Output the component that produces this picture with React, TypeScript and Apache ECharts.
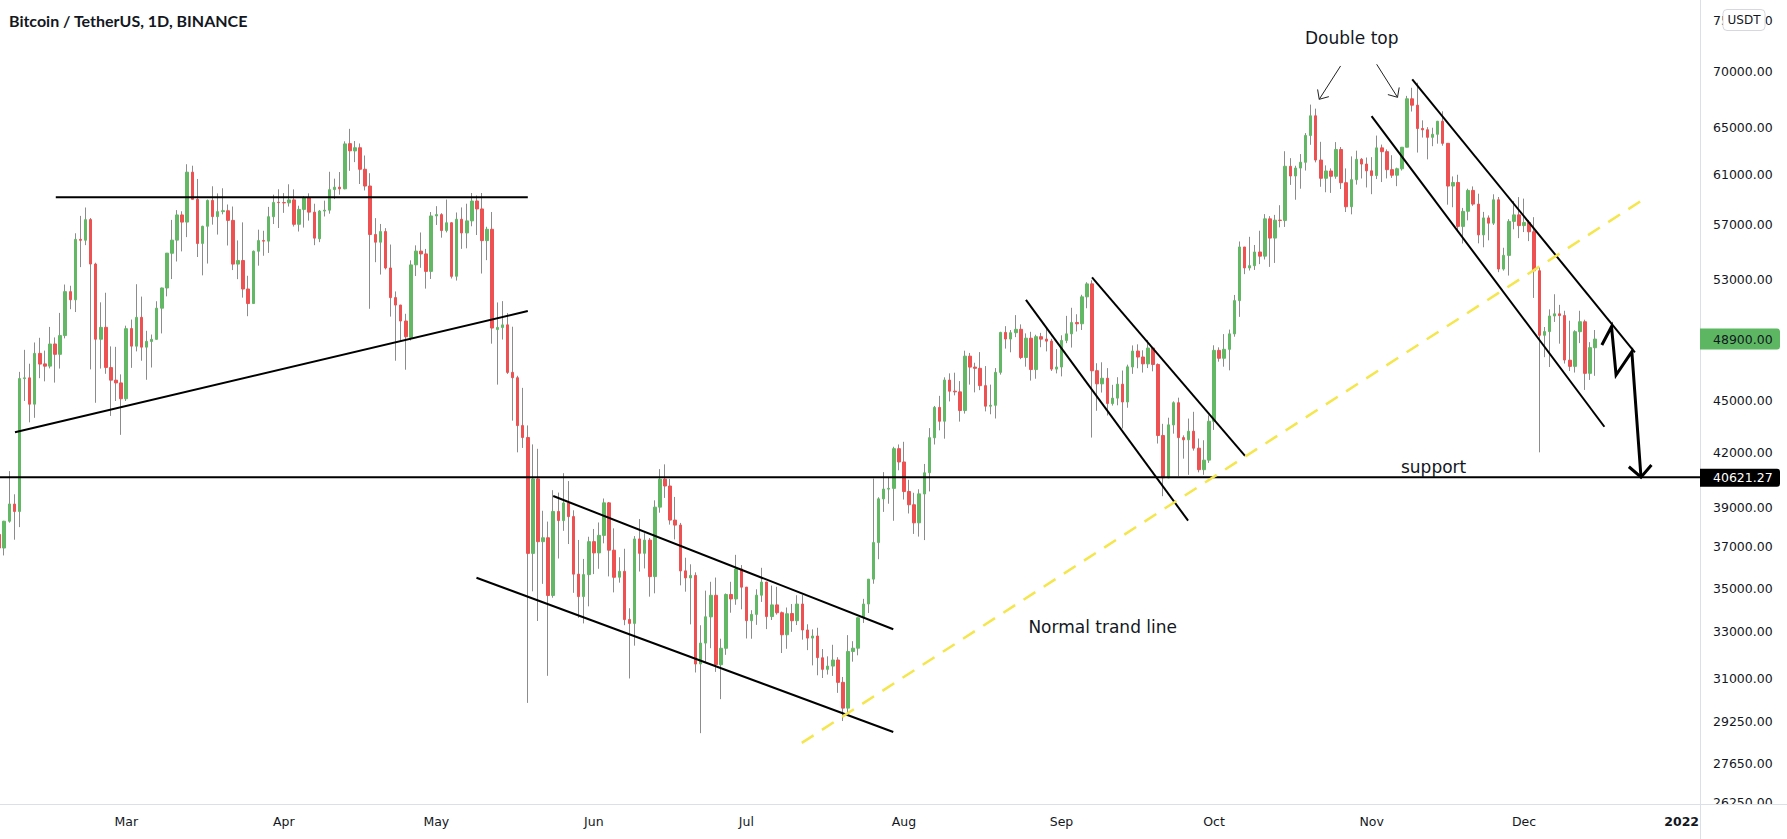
import React, { useEffect, useRef } from "react";
import * as echarts from "echarts";

// Daily BTCUSDT candles 2021, each [open, high, low, close].
// First entry = 4 Feb 2021. Day 0 of the x axis = 8 Feb 2021.
const FIRST_DAY = -4;

const febCandles = [
  [37618, 38708, 36161, 36936], [36936, 38310, 36570, 38290], [38289, 40955, 38215, 39186], [39181, 39700, 37351, 38795],
  [38795, 46794, 37988, 46374], [46374, 48200, 45000, 46420], [46420, 47310, 43727, 44807], [44807, 48678, 43994, 47969],
  [47969, 48985, 46400, 47287], [47298, 48150, 46202, 47153], [47156, 49707, 47014, 48577], [48580, 49010, 46125, 47911],
  [47911, 50650, 47003, 49133], [49133, 52618, 48948, 52119], [52117, 52530, 50901, 51552], [51550, 56368, 50710, 55906],
  [55906, 57700, 53863, 55841], [55841, 58352, 55477, 57408], [57412, 57534, 46951, 54087], [54087, 54183, 44892, 48891],
  [48891, 51374, 47003, 49676], [49677, 52041, 46674, 47073], [47063, 48424, 44106, 46276], [46276, 48394, 45000, 46106],
  [46104, 46638, 43000, 45135],
];
const marCandles = [
  [45134, 49790, 45000, 49587], [49596, 50200, 47047, 48440], [48436, 52640, 48100, 50349], [50349, 51773, 47500, 48374],
  [48374, 49448, 46300, 48751], [48746, 49200, 47070, 48882], [48883, 51450, 48882, 50971], [50972, 52402, 49274, 52375],
  [52375, 54895, 51789, 54884], [54875, 57387, 53005, 55851], [55851, 58150, 54272, 57773], [57773, 58058, 55013, 57221],
  [57222, 61844, 56078, 61189], [61188, 61720, 59021, 59000], [59000, 60633, 54600, 55600], [55605, 56939, 53272, 56900],
  [56901, 58982, 54123, 58912], [58912, 60040, 57023, 57648], [57641, 59468, 56270, 58030], [58030, 59880, 57820, 58102],
  [58100, 58589, 55450, 57352], [57352, 58430, 53650, 54083], [54083, 55830, 53000, 54340], [54342, 57200, 51700, 52303],
  [52303, 53240, 50427, 51293], [51293, 55073, 51280, 55025], [55025, 56640, 53967, 55817], [55817, 56559, 54691, 55777],
  [55777, 58400, 54900, 57636], [57635, 59368, 57071, 58746], [58760, 59800, 56769, 58740],
];
const aprCandles = [
  [58740, 59490, 57935, 58720], [58720, 60200, 58428, 58950], [58950, 59791, 56880, 57051], [57051, 58492, 56500, 58202],
  [58203, 59249, 56800, 59129], [59130, 59474, 57333, 57991], [57990, 58650, 55473, 56000], [55953, 58153, 55700, 58077],
  [58077, 58894, 57654, 58142], [58143, 61220, 57871, 59769], [59778, 60659, 59017, 59964], [59964, 61199, 59369, 59835],
  [59836, 63777, 59799, 63554], [63576, 64854, 61301, 62970], [62960, 63800, 62020, 63229], [63229, 63594, 60222, 61427],
  [61427, 62572, 59700, 60059], [60059, 61103, 50931, 56274], [56275, 57526, 54221, 55696], [55696, 57076, 53329, 56499],
  [56499, 56757, 53696, 53801], [53801, 55521, 50400, 51702], [51703, 52131, 47500, 51188], [51188, 51200, 48734, 50101],
  [50101, 50591, 46930, 49058], [49004, 54357, 48807, 54021], [54030, 55460, 53222, 55034], [55034, 56428, 53813, 54825],
  [54825, 55195, 52330, 53555], [53555, 58000, 53013, 57694],
];
const mayCandles = [
  [57697, 58458, 57000, 57800], [57797, 57911, 56035, 56578], [56578, 58981, 56435, 57169], [57169, 57200, 53046, 53200],
  [53205, 57963, 52900, 57436], [57436, 58360, 55200, 56393], [56394, 58650, 55241, 57314], [57315, 59500, 56900, 58862],
  [58866, 59300, 56235, 58240], [58240, 59500, 53400, 55816], [55816, 56862, 54370, 56670], [56670, 58000, 48600, 49631],
  [49537, 51367, 46000, 49670], [49671, 51459, 48870, 49841], [49845, 50639, 46664, 46762], [46762, 49720, 43825, 46431],
  [46427, 46549, 42001, 43538], [43538, 45800, 42250, 42849], [42844, 43546, 30000, 36671], [36671, 42451, 34850, 40527],
  [40527, 42200, 33488, 37252], [37253, 38832, 35200, 37449], [37449, 38271, 31111, 34655], [34656, 39920, 34551, 38796],
  [38796, 39791, 36419, 38325], [38325, 40841, 37800, 39241], [39241, 40411, 37134, 38529], [38530, 38856, 34779, 35663],
  [35662, 37338, 33632, 34605], [34606, 36400, 33379, 35641], [35641, 37499, 34153, 37253],
];
const junCandles = [
  [37254, 37894, 35666, 36694], [36694, 38225, 35920, 37569], [37568, 39476, 37170, 39246], [39246, 39289, 35555, 36829],
  [36829, 37925, 34800, 35513], [35517, 36480, 35258, 35796], [35796, 36900, 33300, 33552], [33556, 34068, 31000, 33380],
  [33380, 37534, 32397, 37388], [37389, 38400, 35787, 36675], [36677, 37680, 35937, 37331], [37331, 37437, 34600, 35546],
  [35546, 39380, 34757, 39020], [39021, 41064, 38731, 40516], [40516, 41330, 39506, 40144], [40143, 40527, 38116, 38349],
  [38349, 39560, 37365, 38092], [38093, 38202, 35130, 35819], [35820, 36457, 34833, 35484], [35483, 36137, 33336, 35600],
  [35601, 35750, 31251, 31608], [31614, 33298, 28805, 32509], [32510, 34881, 31683, 33678], [33675, 35298, 32287, 34664],
  [34663, 35500, 31275, 31584], [31577, 32700, 30151, 32283], [32283, 34749, 32000, 34701], [34702, 35298, 33862, 34494],
  [34494, 36600, 34225, 35911], [35912, 36100, 34017, 35045],
];
const julCandles = [
  [35045, 35057, 32711, 33504], [33502, 33977, 32700, 33786], [33786, 34945, 33316, 34669], [34668, 35967, 34357, 35286],
  [35288, 35293, 33125, 33690], [33690, 35118, 33532, 34220], [34220, 35059, 33777, 33862], [33863, 33917, 32078, 32875],
  [32875, 34100, 32261, 33815], [33825, 34262, 33004, 33502], [33502, 34666, 33306, 34258], [34259, 34679, 32658, 33086],
  [33086, 33340, 32203, 32729], [32729, 33114, 31550, 32820], [32820, 33185, 31133, 31880], [31874, 32249, 31020, 31383],
  [31383, 31935, 31164, 31520], [31521, 32435, 31108, 31778], [31779, 31899, 30407, 30839], [30839, 31063, 29278, 29790],
  [29790, 32858, 29482, 32144], [32144, 32591, 31708, 32287], [32287, 33651, 31980, 33634], [33634, 34500, 33402, 34259],
  [34262, 35398, 33851, 35425], [35425, 40550, 35206, 37208], [37208, 39542, 36383, 39457], [39456, 40900, 38772, 39978],
  [39978, 40640, 39200, 40017], [40016, 42317, 38313, 42207], [42207, 42448, 41000, 41462],
];
const augCandles = [
  [41461, 42599, 39422, 39846], [39850, 40480, 38690, 39147], [39147, 39780, 37642, 38207], [38208, 39969, 37508, 39723],
  [39718, 41350, 37332, 40862], [40866, 43392, 39853, 42836], [42832, 44700, 42446, 44614], [44614, 45310, 43261, 43792],
  [43794, 46454, 42779, 46285], [46280, 46700, 44972, 45595], [45596, 46743, 45341, 45554], [45554, 46218, 43770, 44428],
  [44429, 48144, 44244, 47793], [47793, 48000, 46000, 47096], [47096, 47372, 45525, 47019], [47019, 48053, 45660, 45936],
  [45936, 47160, 44376, 44686], [44686, 46000, 44203, 44741], [44741, 47033, 43955, 46763], [46763, 49382, 46622, 49339],
  [49340, 49757, 48280, 48905], [48905, 49500, 48040, 49321], [49321, 50500, 49029, 49546], [49547, 49876, 47600, 47706],
  [47706, 49277, 47123, 48960], [48960, 49380, 46250, 46942], [46942, 49188, 46365, 49058], [49058, 49310, 48370, 48897],
  [48897, 49666, 48100, 48767], [48767, 48916, 46853, 46970], [46970, 48250, 46700, 47100],
];
const sepCandles = [
  [47100, 49150, 46512, 48810], [48810, 50450, 48633, 49246], [49247, 51000, 48348, 49999], [50000, 50559, 49400, 49915],
  [49918, 51900, 49500, 51756], [51757, 52780, 50969, 52663], [52666, 52920, 42843, 46864], [46868, 47340, 44412, 46048],
  [46048, 47400, 45513, 46395], [46396, 47031, 44132, 44850], [44842, 45987, 44722, 45173], [45173, 46460, 44742, 46025],
  [46025, 46880, 43370, 44940], [44940, 47250, 44594, 47111], [47104, 48487, 46670, 48121], [48121, 48557, 47021, 47737],
  [47737, 48170, 46750, 47300], [47299, 48843, 47035, 48314], [48314, 48372, 46829, 47260], [47261, 47328, 42500, 42962],
  [42961, 43639, 39600, 40588], [40583, 44000, 40565, 43580], [43576, 44978, 43069, 44895], [44895, 45200, 40675, 42840],
  [42839, 42970, 41646, 42716], [42717, 43950, 40750, 43208], [43209, 44350, 42098, 42235], [42235, 42787, 40888, 41034],
  [41034, 42690, 40753, 41564], [41564, 44141, 41410, 43790],
];
const octCandles = [
  [43791, 48495, 43284, 48165], [48166, 48361, 47438, 47657], [47658, 49229, 47120, 48233], [48233, 49529, 46891, 49245],
  [49244, 51886, 49057, 51493], [51493, 55750, 50382, 55340], [55339, 55338, 53357, 53805], [53802, 56100, 53617, 53967],
  [53967, 55489, 53661, 54968], [54968, 56561, 54080, 54660], [54660, 57839, 54415, 57471], [57471, 57680, 53879, 56005],
  [56006, 57777, 54167, 57367], [57370, 58532, 56819, 57347], [57347, 62934, 56850, 61672], [61672, 62351, 60150, 60875],
  [60876, 61718, 58963, 61528], [61528, 62695, 59844, 62009], [62005, 64486, 61322, 64280], [64281, 67000, 63481, 66001],
  [66002, 66639, 62000, 62193], [62193, 63732, 60000, 60688], [60689, 61747, 59562, 61286], [61286, 61500, 59510, 60852],
  [60852, 63710, 60650, 63078], [63078, 63293, 59817, 60328], [60328, 61497, 58000, 58413], [58413, 62499, 57820, 60575],
  [60575, 62980, 60174, 62253], [62253, 62359, 60673, 61859], [61860, 62405, 59945, 61299],
];
const novCandles = [
  [61300, 62437, 59405, 60911], [60911, 64270, 60624, 63219], [63220, 63500, 60382, 62896], [62897, 63086, 60677, 61395],
  [61396, 62600, 60721, 60937], [60940, 61560, 60050, 61470], [61470, 63286, 61322, 63273], [63273, 67789, 63273, 67525],
  [67525, 68531, 66382, 66947], [66947, 69000, 62822, 64882], [64883, 65600, 64100, 64774], [64774, 65000, 62250, 64122],
  [64123, 64950, 63360, 64380], [64381, 65550, 63576, 65519], [65520, 66401, 63400, 63606], [63606, 63617, 58574, 60058],
  [60059, 60840, 58373, 60345], [60345, 60977, 56474, 56891], [56891, 58320, 55600, 58052], [58058, 59846, 57353, 59707],
  [59707, 60029, 58486, 58622], [58617, 59444, 55610, 56247], [56247, 58009, 55318, 57541], [57541, 57735, 55837, 57138],
  [57138, 59398, 57000, 58960], [58960, 59183, 53500, 53726], [53723, 55281, 53610, 54721], [54717, 57445, 53256, 57274],
  [57275, 58865, 56666, 57776], [57777, 59176, 56000, 56951],
];
const decCandles = [
  [56951, 59053, 56459, 57185], [57184, 57375, 55777, 56481], [56484, 57600, 51680, 53602], [53601, 53860, 42000, 49152],
  [49152, 49699, 47727, 49397], [49397, 50891, 47100, 50441], [50441, 51936, 50039, 50589], [50588, 51200, 48600, 50472],
  [50471, 50797, 47320, 47546], [47535, 50125, 46852, 47141], [47141, 49485, 46751, 49389], [49389, 50797, 48638, 50054],
  [50053, 50190, 45672, 46702], [46702, 48700, 46290, 48343], [48336, 49500, 46547, 48900],
];

// Axis ticks
const monthTickDays = [21, 52, 82, 113, 143, 174, 205, 235, 266, 296, 327];
const monthTickLabels = ["Mar", "Apr", "May", "Jun", "Jul", "Aug", "Sep", "Oct", "Nov", "Dec", "2022"];
const priceTickValues = [75000, 70000, 65000, 61000, 57000, 53000, 45000, 42000, 39000, 37000, 35000, 33000, 31000, 29250, 27650, 26250];
const lastPrice = 48900;
const supportPrice = 40621.27;

// Visible range (days, prices)
const X_MIN = -3.836;
const X_MAX = 330.61;
const AXIS_MIN_PRICE = 26191;
const AXIS_MAX_PRICE = 77106;

// Drawn annotations, [day, price]
const resistanceLine = [[7.14, 59170], [100.0, 59170]];
const risingLine = [[-0.89, 43150], [100.0, 50780]];
const mayChannelUpper = [[105.0, 39610], [171.9, 33120]];
const mayChannelLower = [[89.9, 35490], [171.9, 28850]];
const normalTrendLine = [[153.9, 28430], [320.2, 59180]];
const sepChannelUpper = [[211.0, 53130], [241.1, 41800]];
const sepChannelLower = [[198.0, 51540], [229.9, 38320]];
const novChannelUpper = [[274.0, 69320], [317.8, 48040]];
const novChannelLower = [[266.0, 65980], [311.8, 43470]];
const projectionPath = [[311.3, 48510], [313.2, 49720], [314.1, 46600], [317.2, 48080], [319.0, 40621.27]];
const doubleTopArrows = [
  [[259.9, 70570], [255.7, 67480]],
  [[267.0, 70730], [271.1, 67660]],
];
const notes = [
  { text: "Double top", day: 262.1, price: 73270 },
  { text: "Normal trand line", day: 213.1, price: 33220 },
  { text: "support", day: 278.2, price: 41180 },
];

const UP = "#63b866";
const DOWN = "#ee5152";
const WICK = "#8c8c8c";
const TEXT = "#131722";
const FONT = "DejaVu Sans";

export default function App() {
  const ref = useRef<HTMLDivElement>(null);

  useEffect(() => {
    document.body.style.margin = "0";
    if (!ref.current) return;
    const chart = echarts.init(ref.current, undefined, { renderer: "svg" });
    const ln = Math.log;

    const all = [
      ...febCandles, ...marCandles, ...aprCandles, ...mayCandles, ...junCandles, ...julCandles,
      ...augCandles, ...sepCandles, ...octCandles, ...novCandles, ...decCandles,
    ];
    const wickData = all.map((c, i) => [FIRST_DAY + i, ln(c[0]), ln(c[3]), ln(c[2]), ln(c[1])]);
    const bodyData = all.map((c, i) => [
      FIRST_DAY + i, ln(c[0]), ln(c[3]), ln(Math.min(c[0], c[3])), ln(Math.max(c[0], c[3])),
    ]);

    const lineSeries = (pts: number[][], style: any) => ({
      type: "line",
      data: pts.map(([d, p]) => [d, ln(p)]),
      symbol: "none",
      silent: true,
      lineStyle: style,
      z: 5,
    });
    const black2 = { color: "#000", width: 2 };

    chart.setOption({
      animation: false,
      backgroundColor: "#ffffff",
      grid: { left: 0, right: 87, top: 0, bottom: 35, containLabel: false, outerBoundsMode: "none" },
      xAxis: {
        type: "value",
        min: X_MIN,
        max: X_MAX,
        axisLine: { show: false },
        axisTick: { show: false },
        splitLine: { show: false },
        axisLabel: {
          customValues: monthTickDays,
          margin: 11,
          color: TEXT,
          fontFamily: FONT,
          fontSize: 12.5,
          formatter: (v: number) => {
            const i = monthTickDays.indexOf(Math.round(v));
            const t = monthTickLabels[i] ?? "";
            return /^\d+$/.test(t) ? `{b|${t}}` : t;
          },
          rich: { b: { fontWeight: "bold", fontFamily: FONT, fontSize: 12.5, color: TEXT } },
        },
      },
      yAxis: {
        type: "value",
        position: "right",
        min: ln(AXIS_MIN_PRICE),
        max: ln(AXIS_MAX_PRICE),
        axisLine: { show: false },
        axisTick: { show: false },
        splitLine: { show: false },
        axisLabel: {
          customValues: priceTickValues.map(ln),
          margin: 13,
          color: TEXT,
          fontFamily: FONT,
          fontSize: 12.5,
          formatter: (v: number) => {
            let best = priceTickValues[0];
            for (const p of priceTickValues) if (Math.abs(ln(p) - v) < Math.abs(ln(best) - v)) best = p;
            return best.toFixed(2);
          },
        },
      },
      series: [
        {
          type: "candlestick",
          data: wickData,
          barWidth: 1,
          silent: true,
          itemStyle: { color: WICK, color0: WICK, borderColor: WICK, borderColor0: WICK, borderWidth: 1 },
          z: 2,
        },
        {
          type: "candlestick",
          data: bodyData,
          barWidth: 3,
          silent: true,
          itemStyle: { color: UP, color0: DOWN, borderColor: UP, borderColor0: DOWN, borderWidth: 1 },
          z: 3,
        },
        lineSeries([[X_MIN, supportPrice], [X_MAX, supportPrice]], black2),
        lineSeries(resistanceLine, black2),
        lineSeries(risingLine, black2),
        lineSeries(mayChannelUpper, black2),
        lineSeries(mayChannelLower, black2),
        lineSeries(sepChannelUpper, black2),
        lineSeries(sepChannelLower, black2),
        lineSeries(novChannelUpper, black2),
        lineSeries(novChannelLower, black2),
        lineSeries(normalTrendLine, { color: "#f4e64c", width: 2.5, type: [14, 10] }),
        lineSeries(projectionPath, { color: "#000", width: 3, join: "miter" }),
      ],
    });

    const px = (d: number, p: number) => chart.convertToPixel({ gridIndex: 0 }, [d, ln(p)]) as number[];
    const head = (tip: number[], from: number[], len: number, deg: number) => {
      const dx = from[0] - tip[0];
      const dy = from[1] - tip[1];
      const L = Math.hypot(dx, dy);
      const ux = dx / L, uy = dy / L;
      const a = (deg * Math.PI) / 180;
      const rot = (s: number) => [
        tip[0] + len * (ux * Math.cos(s * a) - uy * Math.sin(s * a)),
        tip[1] + len * (ux * Math.sin(s * a) + uy * Math.cos(s * a)),
      ];
      return [rot(1), tip, rot(-1)];
    };

    const g: any[] = [];
    g.push({
      type: "text", x: 9, y: 20, z: 100,
      style: { text: "Bitcoin / TetherUS, 1D, BINANCE", fill: TEXT, font: "bold 16px Lato", verticalAlign: "middle" },
    });
    // separators & axis pane
    g.push({ type: "rect", z: 90, shape: { x: 1701, y: 804.5, width: 86, height: 35 }, style: { fill: "#fff" } });
    g.push({ type: "line", z: 95, shape: { x1: 1700.5, y1: 0, x2: 1700.5, y2: 839 }, style: { stroke: "#dcdfe6", lineWidth: 1 } });
    g.push({ type: "line", z: 95, shape: { x1: 0, y1: 804.5, x2: 1787, y2: 804.5 }, style: { stroke: "#dcdfe6", lineWidth: 1 } });
    // USDT badge
    g.push({ type: "rect", z: 100, shape: { x: 1723, y: 9.5, width: 42, height: 21, r: 4 }, style: { fill: "#fff", stroke: "#d6d8de", lineWidth: 1 } });
    g.push({ type: "text", z: 101, x: 1744, y: 20, style: { text: "USDT", fill: TEXT, font: `12px "${FONT}"`, align: "center", verticalAlign: "middle" } });
    // last price badge
    const yLast = px(0, lastPrice)[1];
    g.push({ type: "rect", z: 100, shape: { x: 1700, y: yLast - 10.5, width: 80, height: 21, r: [0, 3, 3, 0] }, style: { fill: "#5db762" } });
    g.push({ type: "text", z: 101, x: 1713, y: yLast, style: { text: lastPrice.toFixed(2), fill: TEXT, font: `12.5px "${FONT}"`, verticalAlign: "middle" } });
    // support badge
    const ySup = px(0, supportPrice)[1];
    g.push({ type: "rect", z: 100, shape: { x: 1700, y: ySup - 8.5, width: 80, height: 18, r: [0, 3, 3, 0] }, style: { fill: "#000" } });
    g.push({ type: "text", z: 101, x: 1713, y: ySup + 0.5, style: { text: supportPrice.toFixed(2), fill: "#fff", font: `12.5px "${FONT}"`, verticalAlign: "middle" } });
    // notes
    for (const n of notes) {
      const [x, y] = px(n.day, n.price);
      g.push({ type: "text", z: 100, x, y, style: { text: n.text, fill: TEXT, font: `17px "${FONT}"`, align: "center", verticalAlign: "middle" } });
    }
    // double top arrows
    for (const [a, b] of doubleTopArrows) {
      const s = px(a[0], a[1]);
      const t = px(b[0], b[1]);
      g.push({ type: "polyline", z: 100, shape: { points: [s, t] }, style: { stroke: "#222", lineWidth: 1, fill: null } });
      g.push({ type: "polyline", z: 100, shape: { points: head(t, s, 10, 42) }, style: { stroke: "#222", lineWidth: 1, fill: null } });
    }
    // projection arrow head
    const n = projectionPath.length;
    const tip = px(projectionPath[n - 1][0], projectionPath[n - 1][1]);
    const prev = px(projectionPath[n - 2][0], projectionPath[n - 2][1]);
    g.push({ type: "polyline", z: 100, shape: { points: head(tip, prev, 16, 45) }, style: { stroke: "#000", lineWidth: 3, fill: null } });

    chart.setOption({ graphic: g });

    return () => chart.dispose();
  }, []);

  return <div ref={ref} style={{ width: 1787, height: 839 }} />;
}
